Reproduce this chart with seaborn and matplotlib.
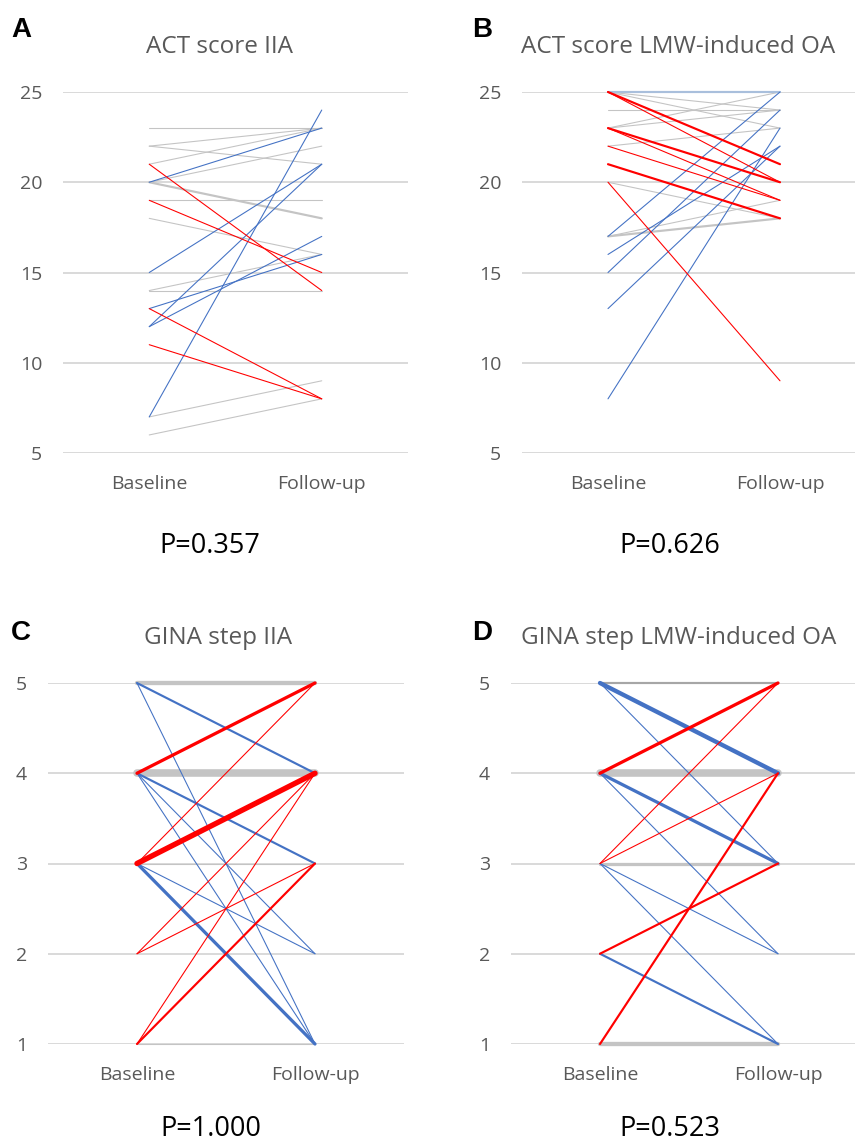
"""
Paired baseline / follow-up slope charts: ACT score and GINA step
for IIA and LMW-induced OA. Line width = number of patients on that path.
"""
import matplotlib.pyplot as plt
import pandas as pd
import seaborn as sns

TIMEPOINTS = ["Baseline", "Follow-up"]

# A: ACT score, IIA
A_BASE = [23, 22, 22, 21, 20, 20, 19, 18, 14, 14, 7, 6, 20, 7, 15, 12, 12, 13, 21, 19, 13, 11]
A_FOLLOW = [23, 23, 21, 23, 22, 18, 19, 16, 16, 14, 9, 8, 23, 24, 21, 21, 17, 16, 14, 15, 8, 8]
A_N = [1, 1, 1, 1, 1, 2, 1, 1, 1, 1, 1, 1, 1, 1, 1, 1, 1, 1, 1, 1, 1, 1]
A_GROUP = ["same"] * 12 + ["better"] * 6 + ["worse"] * 4

# B: ACT score, LMW-induced OA
B_BASE = [25, 25, 25, 24, 23, 23, 22, 20, 17, 17, 17, 16, 15, 13, 8, 25, 25, 23, 23, 22, 21, 20]
B_FOLLOW = [25, 24, 23, 24, 25, 24, 23, 18, 19, 18, 25, 22, 24, 22, 23, 21, 20, 20, 19, 19, 18, 9]
B_N = [2, 1, 1, 1, 1, 1, 1, 1, 1, 2, 1, 1, 1, 1, 1, 2, 1, 2, 1, 1, 2, 1]
B_GROUP = ["same_blue"] + ["same"] * 9 + ["better"] * 5 + ["worse"] * 7

# C: GINA step, IIA
C_BASE = [5, 4, 3, 1, 5, 5, 4, 4, 4, 3, 3, 4, 3, 3, 2, 2, 1, 1]
C_FOLLOW = [5, 4, 3, 1, 4, 1, 3, 2, 1, 2, 1, 5, 5, 4, 4, 3, 4, 3]
C_N = [4, 7, 1, 1, 2, 1, 2, 1, 1, 1, 3, 3, 1, 5, 1, 1, 1, 2]
C_GROUP = ["same"] * 4 + ["better"] * 7 + ["worse"] * 7

# D: GINA step, LMW-induced OA
D_BASE = [5, 4, 3, 1, 5, 5, 4, 4, 3, 3, 2, 4, 3, 3, 2, 1]
D_FOLLOW = [5, 4, 3, 1, 4, 3, 3, 2, 2, 1, 1, 5, 5, 4, 3, 4]
D_N = [2, 7, 3, 4, 4, 1, 3, 1, 1, 1, 2, 3, 1, 1, 2, 2]
D_GROUP = ["same_dark"] + ["same"] * 3 + ["better"] * 7 + ["worse"] * 5

TITLES = ["ACT score IIA", "ACT score LMW-induced OA", "GINA step IIA", "GINA step LMW-induced OA"]
LETTERS = ["A", "B", "C", "D"]
P_TEXT = ["P=0.357", "P=0.626", "P=1.000", "P=0.523"]

PALETTE = {
    "same": "#c4c4c4",
    "same_blue": "#a9bfdc",
    "same_dark": "#a6a6a6",
    "better": "#4472c4",
    "worse": "#ff0000",
}
HUE_ORDER = ["same", "same_blue", "same_dark", "better", "worse"]
SIZES = {n: 0.78 * n for n in range(1, 8)}


def to_long(base, follow, n, group):
    rows = []
    for pid, (b, f, k, g) in enumerate(zip(base, follow, n, group)):
        rows.append(dict(pid=pid, time=0, score=b, n=k, group=g))
        rows.append(dict(pid=pid, time=1, score=f, n=k, group=g))
    return pd.DataFrame(rows)


def draw_panel(ax, df, yticks):
    sns.lineplot(
        data=df, x="time", y="score", units="pid", estimator=None, sort=False,
        hue="group", hue_order=HUE_ORDER, palette=PALETTE,
        size="n", sizes=SIZES, legend=False, ax=ax,
        clip_on=False, solid_capstyle="round",
    )
    ax.set_xlim(-0.5, 1.5)
    ax.set_ylim(yticks[0], yticks[-1])
    ax.set_xticks([0, 1], TIMEPOINTS)
    ax.set_yticks(yticks)
    ax.set_xlabel("")
    ax.set_ylabel("")
    ax.yaxis.grid(True, color="#d9d9d9", lw=1.4)
    ax.xaxis.grid(False)
    ax.set_axisbelow(True)
    sns.despine(ax=ax, left=True, bottom=True)
    ax.tick_params(axis="x", length=0, pad=16, labelsize=14, labelcolor="#595959")
    ax.tick_params(axis="y", length=0, pad=15, labelsize=14, labelcolor="#595959")


sns.set_style("white")
plt.rcParams["font.family"] = ["Open Sans", "DejaVu Sans"]

fig = plt.figure(figsize=(8.55, 11.44), dpi=100)
W, H = 855, 1144

panels = [
    (A_BASE, A_FOLLOW, A_N, A_GROUP, [5, 10, 15, 20, 25], (63, 92, 345, 361)),
    (B_BASE, B_FOLLOW, B_N, B_GROUP, [5, 10, 15, 20, 25], (522, 92, 344, 361)),
    (C_BASE, C_FOLLOW, C_N, C_GROUP, [1, 2, 3, 4, 5], (48, 683, 356, 361)),
    (D_BASE, D_FOLLOW, D_N, D_GROUP, [1, 2, 3, 4, 5], (511, 683, 356, 361)),
]
title_pos = [(219, 53), (678, 53), (218, 644), (679, 644)]
letter_pos = [(11, 37), (472, 37), (11, 640), (472, 640)]
p_pos = [(210, 553), (670, 553), (211, 1136), (670, 1136)]

for i, (base, follow, n, group, yticks, (x0, y0, w, h)) in enumerate(panels):
    ax = fig.add_axes([x0 / W, 1 - (y0 + h) / H, w / W, h / H])
    draw_panel(ax, to_long(base, follow, n, group), yticks)

    tx, ty = title_pos[i]
    fig.text(tx / W, 1 - ty / H, TITLES[i], ha="center", va="baseline",
             fontsize=17.5, color="#595959")
    lx, ly = letter_pos[i]
    fig.text(lx / W, 1 - ly / H, LETTERS[i], ha="left", va="baseline",
             fontsize=20, fontweight="bold", family="Liberation Sans", color="black")
    px, py = p_pos[i]
    fig.text(px / W, 1 - py / H, P_TEXT[i], ha="center", va="baseline",
             fontsize=19.5, color="black")

fig.savefig("out.png", dpi=100)
